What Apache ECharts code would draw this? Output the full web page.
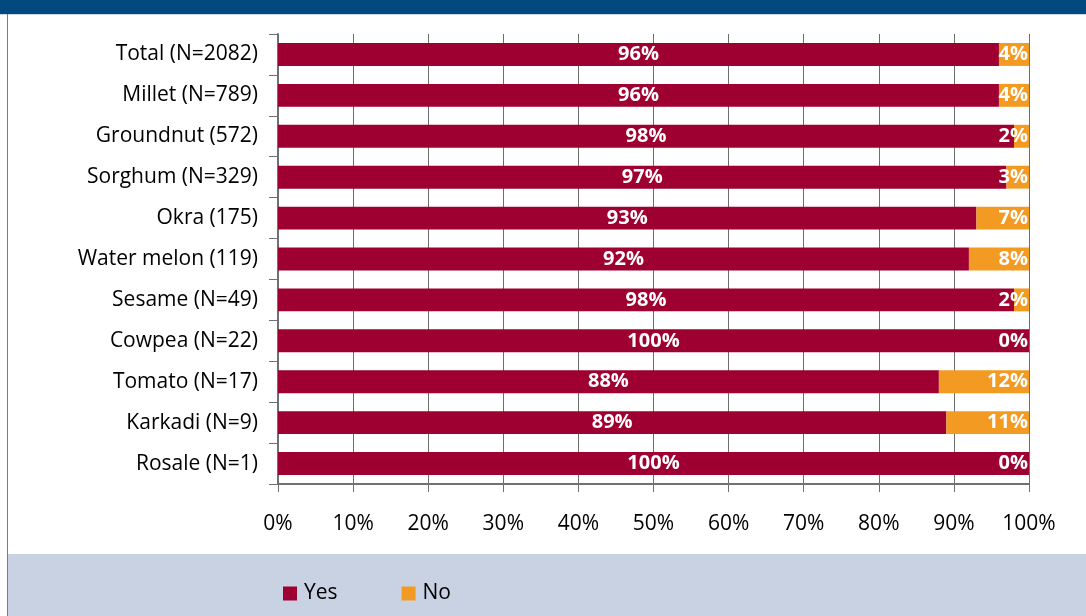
<!DOCTYPE html>
<html>
<head>
<meta charset="utf-8">
<style>
  html, body { margin: 0; padding: 0; background: #ffffff; }
  #chart { width: 1086px; height: 616px; }
</style>
<script src="https://cdn.jsdelivr.net/npm/echarts@6/dist/echarts.min.js"></script>
</head>
<body>
<div id="chart"></div>
<script>
// Crop categories (top to bottom) and share of farmers answering Yes / No
const categories = [
  'Total (N=2082)', 'Millet (N=789)', 'Groundnut (572)', 'Sorghum (N=329)',
  'Okra (175)', 'Water melon (119)', 'Sesame (N=49)', 'Cowpea (N=22)',
  'Tomato (N=17)', 'Karkadi (N=9)', 'Rosale (N=1)'
];
const yesValues = [96, 96, 98, 97, 93, 92, 98, 100, 88, 89, 100];
const noValues  = [4, 4, 2, 3, 7, 8, 2, 0, 12, 11, 0];
const xTicks = [0, 10, 20, 30, 40, 50, 60, 70, 80, 90, 100];

const FONT = 'Open Sans';
const chart = echarts.init(document.getElementById('chart'), null, { renderer: 'canvas' });

const labelStyle = {
  show: true,
  color: '#ffffff',
  fontFamily: FONT,
  fontWeight: 'bold',
  fontSize: 20,
  formatter: p => p.value + '%'
};

chart.setOption({
  animation: false,
  textStyle: { fontFamily: FONT },
  graphic: [
    // header band
    { type: 'rect', shape: { x: 0, y: 0, width: 1086, height: 14 }, style: { fill: '#004a80' }, z: -10 },
    { type: 'rect', shape: { x: 0, y: 14, width: 1086, height: 1 }, style: { fill: '#c9d8e6' }, z: -10 },
    // left frame line
    { type: 'rect', shape: { x: 7, y: 14, width: 1, height: 602 }, style: { fill: '#5b84ad' }, z: -10 },
    // legend band
    { type: 'rect', shape: { x: 8, y: 554, width: 1078, height: 62 }, style: { fill: '#c8d2e3' }, z: -10 }
  ],
  grid: { left: 278, right: 57, top: 34, bottom: 132, containLabel: false },
  legend: {
    left: 278,
    top: 578,
    itemWidth: 14,
    itemHeight: 14,
    itemGap: 64,
    icon: 'rect',
    textStyle: { fontFamily: FONT, fontSize: 21, color: '#000000', padding: [0, 0, 0, 2] },
    data: ['Yes', 'No']
  },
  xAxis: {
    type: 'value',
    min: xTicks[0],
    max: xTicks[xTicks.length - 1],
    interval: 10,
    axisLine: { show: true, lineStyle: { color: '#707070', width: 2 } },
    axisTick: { show: true, length: 8, lineStyle: { color: '#707070' } },
    axisLabel: { fontFamily: FONT, fontSize: 21, color: '#000000', margin: 30, formatter: '{value}%' },
    splitLine: { show: true, lineStyle: { color: '#6e6e6e', width: 1 } }
  },
  yAxis: {
    type: 'category',
    inverse: true,
    data: categories,
    axisLine: { show: true, lineStyle: { color: '#707070', width: 2 } },
    axisTick: { show: true, length: 9, alignWithLabel: false, lineStyle: { color: '#707070' } },
    axisLabel: { fontFamily: FONT, fontSize: 21, color: '#000000', margin: 20 }
  },
  series: [
    {
      name: 'Yes',
      type: 'bar',
      stack: 'share',
      data: yesValues,
      barCategoryGap: '44%',
      itemStyle: { color: '#9e0031' },
      label: Object.assign({ position: 'inside' }, labelStyle)
    },
    {
      name: 'No',
      type: 'bar',
      stack: 'share',
      data: noValues,
      itemStyle: { color: '#f39a23' },
      label: Object.assign({ position: 'insideRight', distance: 1 }, labelStyle)
    }
  ]
});
</script>
</body>
</html>
